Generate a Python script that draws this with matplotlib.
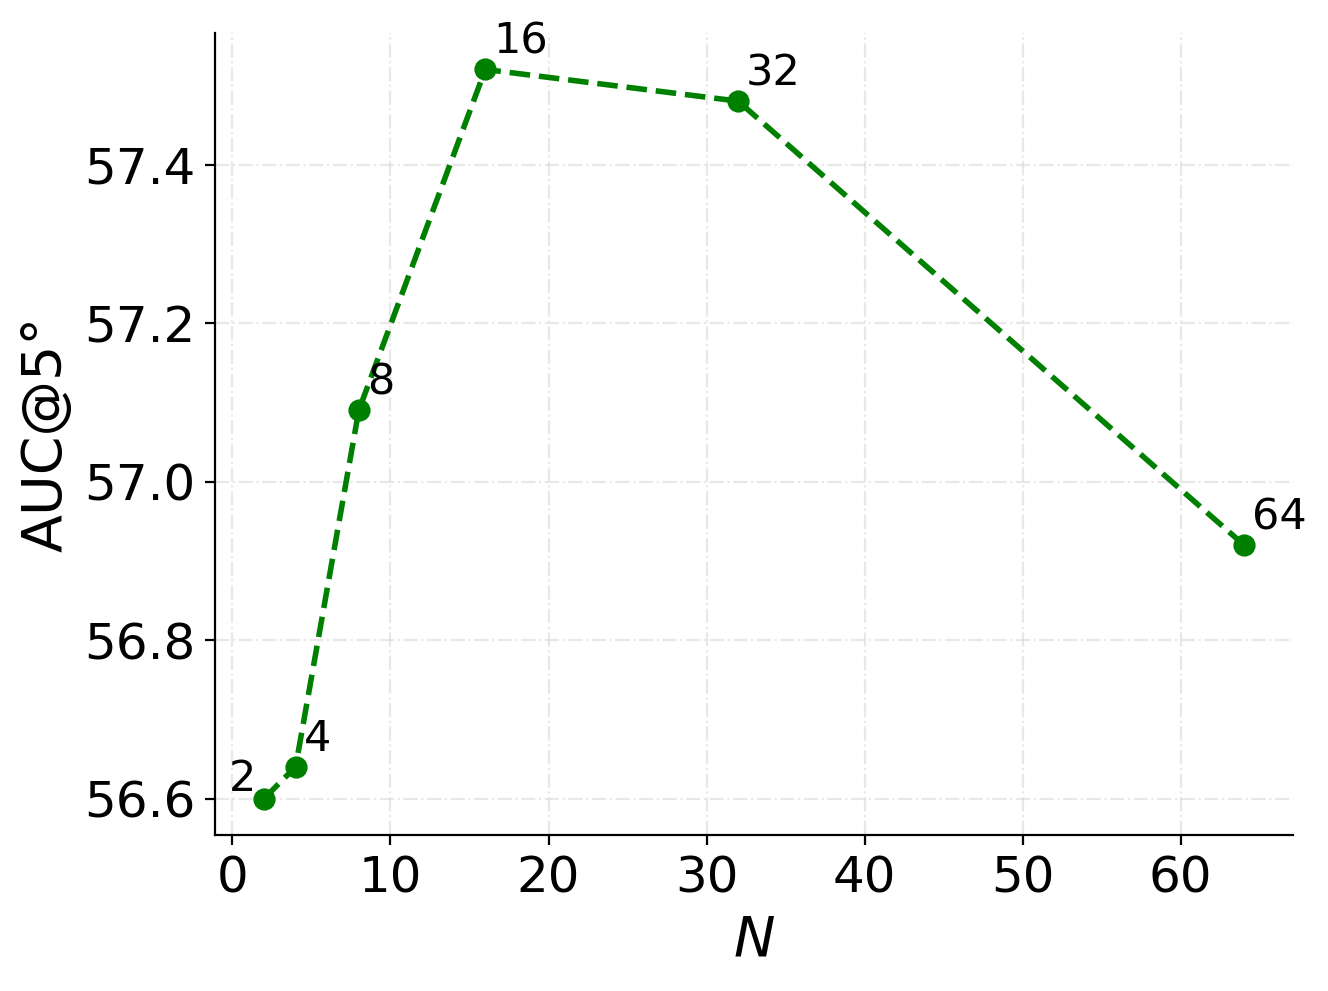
import matplotlib
matplotlib.use("Agg")
import matplotlib.pyplot as plt

# ============================
# DATA
# ============================
n_values = [2, 4, 8, 16, 32, 64]
auc_values = [56.60, 56.64, 57.09, 57.52, 57.48, 56.92]
point_labels = ["2", "4", "8", "16", "32", "64"]

# ============================
# PLOT
# ============================
fig, ax = plt.subplots(figsize=(6.64, 4.955), dpi=200)
fig.subplots_adjust(left=0.1619, right=0.9736, top=0.9667, bottom=0.1574)

ax.plot(n_values, auc_values, linestyle="--", marker="o", color="green",
        linewidth=2, markersize=7)

# etiquetas ao lado de cada ponto
for x, y, lab in zip(n_values, auc_values, point_labels):
    if lab == "2":
        ax.text(x - 0.5, y + 0.01, lab, ha="right", fontsize=15.5)
    else:
        ax.text(x + 0.5, y + 0.02, lab, ha="left", fontsize=15.5)

ax.set_xlabel("$N$", fontsize=20)
ax.set_ylabel("AUC@5°", fontsize=20)
ax.tick_params(labelsize=18)
ax.grid(True, linestyle="-.", color="lightgray", alpha=0.5)
ax.spines["top"].set_visible(False)
ax.spines["right"].set_visible(False)

plt.savefig("out.png", dpi=200)
